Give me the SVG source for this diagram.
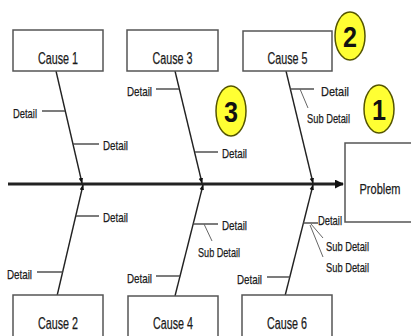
<svg xmlns="http://www.w3.org/2000/svg" width="411" height="336" viewBox="0 0 411 336">
<defs>
<style>
.box{fill:#fff;stroke:#555;stroke-width:1.5}
.bone{stroke:#222;stroke-width:1.4;fill:none}
.det{stroke:#444;stroke-width:1.4;fill:none}
.sub{stroke:#666;stroke-width:1;fill:none}
.t{font-family:"Liberation Sans",Arial,sans-serif;fill:#1a1a1a;stroke:#1a1a1a;stroke-width:0.25}
.cause{font-size:16px;text-anchor:middle}
.d{font-size:13.5px}
.circ{fill:#ffff33;stroke:#555500;stroke-width:1.5}
.num{font-family:"Liberation Sans",Arial,sans-serif;font-weight:bold;font-size:29px;fill:#111;text-anchor:middle}
</style>
<marker id="ah" viewBox="0 0 10 10" refX="9" refY="5" markerWidth="3" markerHeight="3" orient="auto" markerUnits="strokeWidth"><path d="M0,0 L10,5 L0,10 z" fill="#111"/></marker>
<marker id="sa" viewBox="0 0 10 10" refX="9" refY="5" markerWidth="4" markerHeight="4" orient="auto" markerUnits="strokeWidth"><path d="M0,1 L10,5 L0,9 z" fill="#111"/></marker>
</defs>
<rect width="411" height="336" fill="#fff"/>

<g id="connectors">
<line x1="8" y1="184" x2="343" y2="184" stroke="#222" stroke-width="3" marker-end="url(#ah)"/>
<line class="bone" x1="56" y1="71" x2="82" y2="183" marker-end="url(#sa)"/>
<line class="bone" x1="175" y1="71" x2="202" y2="183" marker-end="url(#sa)"/>
<line class="bone" x1="286" y1="71" x2="313" y2="183" marker-end="url(#sa)"/>
<line class="bone" x1="57" y1="296" x2="83" y2="185" marker-end="url(#sa)"/>
<line class="bone" x1="175" y1="296" x2="203" y2="185" marker-end="url(#sa)"/>
<line class="bone" x1="285" y1="296" x2="313" y2="185" marker-end="url(#sa)"/>
<line class="det" x1="42" y1="111" x2="65" y2="111"/>
<line class="det" x1="73" y1="144" x2="99" y2="144"/>
<line class="det" x1="156" y1="89" x2="179" y2="89"/>
<line class="det" x1="195" y1="152" x2="218" y2="152"/>
<line class="det" x1="290" y1="89" x2="314" y2="89"/>
<line class="sub" x1="300" y1="89" x2="308" y2="108"/>
<line class="det" x1="76" y1="216" x2="99" y2="216"/>
<line class="det" x1="37" y1="272" x2="63" y2="272"/>
<line class="det" x1="193" y1="224" x2="218" y2="224"/>
<line class="sub" x1="204" y1="224" x2="212" y2="241"/>
<line class="det" x1="156" y1="276" x2="180" y2="276"/>
<line class="det" x1="303" y1="223" x2="318" y2="223"/>
<line class="sub" x1="311" y1="224" x2="323" y2="238"/>
<line class="sub" x1="310" y1="225" x2="323" y2="257"/>
<line class="det" x1="267" y1="277" x2="290" y2="277"/>
</g>

<g id="cause1"><rect class="box" x="13" y="30" width="90" height="41"/><text class="t cause" x="58" y="64" textLength="40" lengthAdjust="spacingAndGlyphs">Cause 1</text></g>
<g id="cause3"><rect class="box" x="127" y="30" width="91" height="41"/><text class="t cause" x="172.5" y="64" textLength="40" lengthAdjust="spacingAndGlyphs">Cause 3</text></g>
<g id="cause5"><rect class="box" x="243" y="31" width="89" height="40"/><text class="t cause" x="287.5" y="64" textLength="40" lengthAdjust="spacingAndGlyphs">Cause 5</text></g>
<g id="cause2"><rect class="box" x="13" y="295" width="90" height="45"/><text class="t cause" x="58" y="329" textLength="40" lengthAdjust="spacingAndGlyphs">Cause 2</text></g>
<g id="cause4"><rect class="box" x="128" y="296" width="90" height="44"/><text class="t cause" x="173" y="329" textLength="40" lengthAdjust="spacingAndGlyphs">Cause 4</text></g>
<g id="cause6"><rect class="box" x="242" y="295" width="90" height="45"/><text class="t cause" x="287" y="329" textLength="40" lengthAdjust="spacingAndGlyphs">Cause 6</text></g>
<g id="problem"><rect class="box" x="345" y="143" width="70" height="79"/><text class="t" x="380" y="194" font-size="15" text-anchor="middle" textLength="41" lengthAdjust="spacingAndGlyphs">Problem</text></g>

<g id="details">
<text class="t d" x="13" y="118" textLength="24" lengthAdjust="spacingAndGlyphs">Detail</text>
<text class="t d" x="103" y="150" textLength="25" lengthAdjust="spacingAndGlyphs">Detail</text>
<text class="t d" x="127" y="96" textLength="25" lengthAdjust="spacingAndGlyphs">Detail</text>
<text class="t d" x="222" y="158" textLength="25" lengthAdjust="spacingAndGlyphs">Detail</text>
<text class="t d" x="321" y="96" textLength="28" lengthAdjust="spacingAndGlyphs">Detail</text>
<text class="t d" x="307" y="123" textLength="43" lengthAdjust="spacingAndGlyphs">Sub Detail</text>
<text class="t d" x="103" y="222" textLength="25" lengthAdjust="spacingAndGlyphs">Detail</text>
<text class="t d" x="7" y="279" textLength="25" lengthAdjust="spacingAndGlyphs">Detail</text>
<text class="t d" x="222" y="230" textLength="25" lengthAdjust="spacingAndGlyphs">Detail</text>
<text class="t d" x="198" y="257" textLength="42" lengthAdjust="spacingAndGlyphs">Sub Detail</text>
<text class="t d" x="127" y="283" textLength="25" lengthAdjust="spacingAndGlyphs">Detail</text>
<text class="t d" x="318" y="225" textLength="24" lengthAdjust="spacingAndGlyphs">Detail</text>
<text class="t d" x="326" y="251" textLength="43" lengthAdjust="spacingAndGlyphs">Sub Detail</text>
<text class="t d" x="326" y="272" textLength="43" lengthAdjust="spacingAndGlyphs">Sub Detail</text>
<text class="t d" x="237" y="284" textLength="25" lengthAdjust="spacingAndGlyphs">Detail</text>
</g>

<g id="marker1"><ellipse class="circ" cx="379" cy="109" rx="15" ry="24"/><text class="num" x="379" y="120" textLength="14" lengthAdjust="spacingAndGlyphs">1</text></g>
<g id="marker2"><ellipse class="circ" cx="350" cy="36" rx="15" ry="24"/><text class="num" x="350" y="47" textLength="14" lengthAdjust="spacingAndGlyphs">2</text></g>
<g id="marker3"><ellipse class="circ" cx="231" cy="111" rx="15" ry="25"/><text class="num" x="231" y="122" textLength="14" lengthAdjust="spacingAndGlyphs">3</text></g>
</svg>
